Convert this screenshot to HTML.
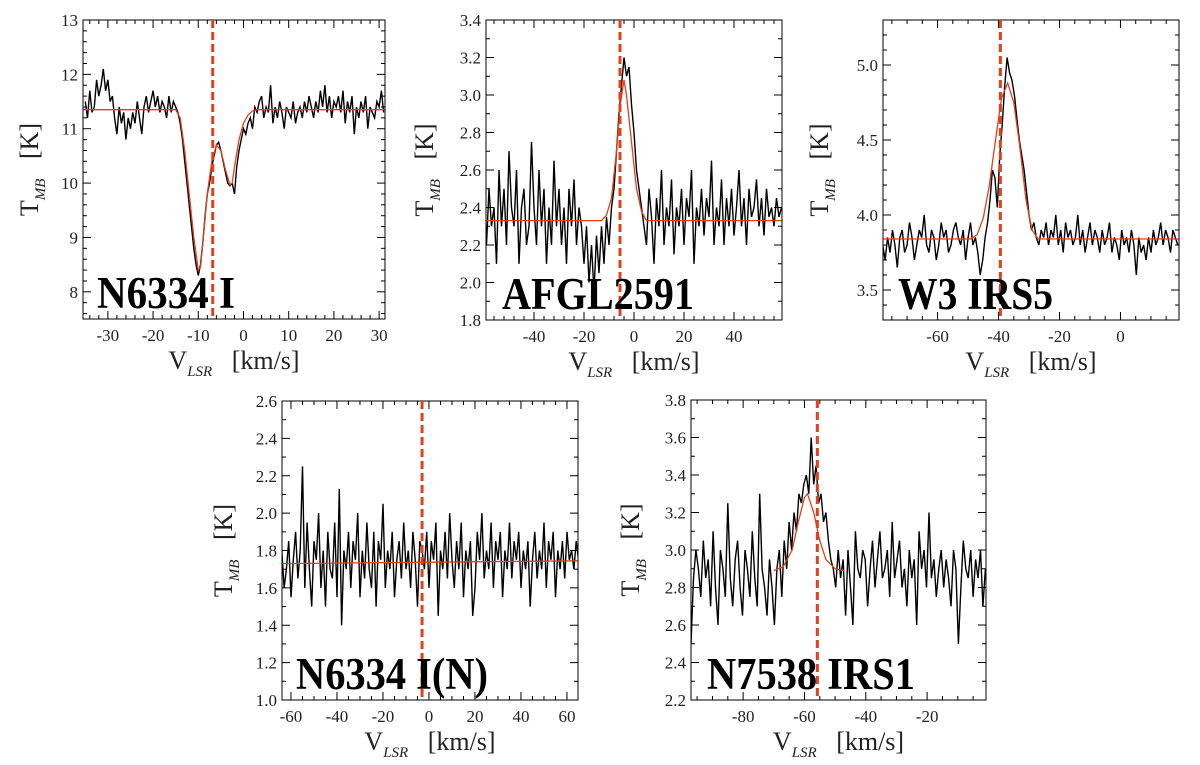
<!DOCTYPE html>
<html><head><meta charset="utf-8">
<style>
html,body{margin:0;padding:0;background:#fff;}
svg{display:block;font-family:"Liberation Serif","DejaVu Serif",serif;}
</style></head>
<body>
<svg id="fig" width="1200" height="765" viewBox="0 0 1200 765" xmlns="http://www.w3.org/2000/svg"></svg>
<script>
// ---- Panel 1: N6334 I ----
const p1Start = -35, p1Step = 0.5;
const p1Values = [11.5,11.2,11.7,11.3,11.4,11.9,11.6,11.8,12.1,11.7,11.9,11.5,11.6,11.2,10.9,11.4,11.1,11.3,10.8,11.2,11.0,11.3,11.1,11.5,11.2,10.9,11.4,11.6,11.3,11.5,11.7,11.4,11.6,11.3,11.5,11.4,11.2,11.6,11.3,11.5,11.4,11.3,
11.1,10.8,10.4,10.0,9.6,9.2,8.8,8.5,8.3,8.5,8.9,9.4,9.8,10.0,10.3,10.5,10.7,10.75,10.6,10.4,10.2,10.0,9.95,10.0,9.8,10.3,10.6,10.8,
11.0,10.9,11.1,11.2,11.0,11.4,11.3,11.5,11.6,11.2,11.4,11.3,11.8,11.1,11.4,11.2,11.5,11.3,11.0,11.4,11.3,11.2,11.5,11.1,11.3,11.4,11.2,11.5,11.3,11.6,11.4,11.2,11.5,11.3,11.7,11.4,11.8,11.3,11.6,11.2,11.5,11.4,11.6,11.3,11.7,11.1,11.5,11.3,11.6,10.9,11.4,11.2,11.5,11.3,11.6,11.0,11.4,11.3,11.2,11.5,11.4,11.7,11.3];
const p1FitV = [-35.5,-15,-14,-13,-12,-11,-10,-9.5,-9,-8,-7,-6,-5,-4,-3,-2.5,-2,-1,0,1,2,3,31.3];
const p1FitT = [11.35,11.35,11.2,10.6,9.8,9.0,8.4,8.45,8.9,9.8,10.4,10.7,10.6,10.25,9.97,10.0,10.3,10.8,11.1,11.25,11.33,11.35,11.35];
const p1XTicks = [-30,-20,-10,0,10,20,30];
const p1YTicks = [8,9,10,11,12,13];
const p1Vlsr = -6.8;

// ---- Panel 2: AFGL2591 ----
const p2Start = -59, p2Step = 1;
const p2Values = [2.2,2.5,2.3,2.4,2.1,2.6,2.3,2.5,2.2,2.7,2.4,2.3,2.6,2.1,2.4,2.5,2.2,2.3,2.75,2.4,2.2,2.6,2.3,2.5,2.1,2.4,2.2,2.65,2.3,2.5,2.2,2.4,2.1,2.5,2.3,2.55,2.2,2.4,2.3,
2.1,2.3,2.0,2.2,1.95,2.25,2.05,2.3,2.1,2.35,2.2,
2.4,2.5,2.7,2.9,3.05,3.2,3.1,3.15,2.95,2.8,2.6,2.5,2.4,
2.3,2.2,2.5,2.35,2.1,2.45,2.3,2.6,2.2,2.4,2.3,2.55,2.15,2.4,2.3,2.5,2.2,2.45,2.35,2.6,2.1,2.4,2.3,2.5,2.25,2.45,2.35,2.65,2.2,2.4,2.3,2.55,2.2,2.45,2.3,2.5,2.25,2.4,2.6,2.3,2.45,2.2,2.5,2.35,2.4,2.55,2.3,2.45,2.25,2.5,2.35,2.4,2.3,2.45,2.35,2.4];
const p2FitV = [-59.2,-13,-11,-9,-7,-5.5,-4,-3,-1,1,3,5,59.2];
const p2FitT = [2.33,2.33,2.36,2.45,2.7,2.95,3.08,3.0,2.75,2.5,2.38,2.33,2.33];
const p2XTicks = [-40,-20,0,20,40];
const p2YTicks = [1.8,2.0,2.2,2.4,2.6,2.8,3.0,3.2,3.4];
const p2Vlsr = -5.6;

// ---- Panel 3: W3 IRS5 ----
const p3Start = -78, p3Step = 0.8;
const p3Values = [3.8,3.7,3.85,3.75,3.9,3.8,3.65,3.85,3.9,3.75,3.8,3.95,3.85,3.7,3.8,3.9,3.85,4.0,3.8,3.75,3.9,3.85,3.7,3.8,3.95,3.85,3.9,3.75,3.8,3.9,3.95,3.85,3.8,3.9,3.7,3.85,3.95,3.8,3.85,
3.75,3.6,3.7,3.85,3.95,4.1,4.3,4.25,4.05,4.4,4.6,4.85,5.05,4.95,4.9,4.8,4.65,4.5,4.4,4.3,4.15,4.0,3.9,3.95,3.85,3.8,
3.9,3.85,3.95,3.8,3.9,3.85,4.0,3.8,3.9,3.75,3.95,3.85,3.9,3.8,3.85,4.0,3.8,3.9,3.75,3.85,3.95,3.8,3.9,3.85,3.75,3.9,3.8,3.85,3.95,3.75,3.85,3.8,3.7,3.9,3.8,3.85,3.75,3.9,3.8,3.6,3.85,3.75,3.8,3.7,3.85,3.75,3.9,3.8,3.85,3.95,3.8,3.9,3.85,3.75,3.9,3.85,3.8];
const p3FitV = [-78,-49,-47,-45,-43,-41,-39,-37,-35,-33,-31,-29,-27,19.2];
const p3FitT = [3.84,3.84,3.87,3.98,4.2,4.5,4.78,4.88,4.75,4.45,4.1,3.9,3.84,3.84];
const p3XTicks = [-60,-40,-20,0];
const p3YTicks = [3.5,4.0,4.5,5.0];
const p3Vlsr = -39.4;

// ---- Panel 4: N6334 I(N) ----
const p4Start = -64, p4Step = 1;
const p4Values = [1.8,1.6,1.7,1.85,1.55,1.75,1.9,1.65,1.8,2.25,1.6,1.95,1.7,1.5,1.85,1.75,2.0,1.6,1.8,1.5,1.9,1.7,1.65,1.95,1.55,2.13,1.4,1.8,1.7,1.9,1.6,1.85,1.75,2.0,1.55,1.8,1.65,1.95,1.7,1.6,1.9,1.5,1.85,1.75,2.05,1.6,1.8,1.7,1.9,1.55,1.75,1.85,1.65,1.95,1.7,1.8,1.6,1.9,1.75,1.5,1.85,1.8,1.7,1.9,1.6,1.85,1.75,1.95,1.45,1.8,1.7,1.9,1.65,2.0,1.75,1.6,1.85,1.7,1.95,1.55,1.8,1.7,1.85,1.45,1.6,1.9,1.75,2.0,1.65,1.8,1.7,1.95,1.6,1.85,1.75,1.9,1.55,1.8,1.7,1.95,1.65,1.85,1.75,1.9,1.6,1.8,1.7,1.85,1.5,1.75,1.9,1.65,1.8,1.7,1.95,1.6,1.85,1.75,1.9,1.55,1.8,1.7,1.85,1.65,1.9,1.75,1.8,1.7,1.85,1.75];
const p4FitV = [-64,65];
const p4FitT = [1.73,1.745];
const p4XTicks = [-60,-40,-20,0,20,40,60];
const p4YTicks = [1.0,1.2,1.4,1.6,1.8,2.0,2.2,2.4,2.6];
const p4Vlsr = -3;

// ---- Panel 5: N7538 IRS1 ----
const p5Start = -97, p5Step = 0.8;
const p5Values = [2.5,2.85,3.0,2.9,2.75,3.05,2.85,2.95,2.7,3.1,2.8,2.6,3.0,2.9,2.75,3.25,2.85,2.7,2.95,3.05,2.8,2.65,3.0,2.9,2.75,3.1,2.85,2.7,3.3,2.9,2.8,2.65,2.95,
2.8,2.6,2.9,3.0,2.75,3.05,2.9,3.15,3.0,3.2,3.1,3.3,3.25,3.35,3.4,3.3,3.6,3.35,3.45,3.25,3.3,3.15,3.2,3.05,2.95,2.9,
2.8,3.0,2.85,2.95,2.65,3.0,2.8,2.6,3.1,2.9,2.85,3.0,2.95,2.7,2.9,3.05,2.8,2.95,3.1,2.85,2.9,3.0,2.75,3.15,2.85,2.95,3.05,2.8,2.9,2.7,3.0,2.85,2.95,2.6,3.1,2.9,3.0,2.8,3.2,2.85,2.95,2.75,2.9,3.0,2.8,2.95,2.85,2.7,3.0,2.9,2.5,2.8,3.05,2.9,2.85,3.0,2.75,2.95,2.85,3.0,2.7,2.9];
const p5FitV = [-70,-67,-64,-62,-60,-59,-57,-55,-53,-50,-47];
const p5FitT = [2.89,2.91,3.0,3.15,3.28,3.3,3.2,3.05,2.95,2.9,2.89];
const p5XTicks = [-80,-60,-40,-20];
const p5YTicks = [2.2,2.4,2.6,2.8,3.0,3.2,3.4,3.6,3.8];
const p5Vlsr = -55.8;

const NS = "http://www.w3.org/2000/svg";
const svg = document.getElementById('fig');
function mk(tag, attrs, parent){
  const e = document.createElementNS(NS, tag);
  for (const k in attrs) e.setAttribute(k, attrs[k]);
  (parent||svg).appendChild(e);
  return e;
}
function fmt(v, dec){ return v.toFixed(dec); }

function panel(cfg){
  const g = mk('g', {});
  
  
  const L=cfg.box[0], T=cfg.box[1], R=cfg.box[2], B=cfg.box[3];
  const xs = v => L + (v - cfg.xr[0])/(cfg.xr[1]-cfg.xr[0])*(R-L);
  const ys = t => B - (t - cfg.yr[0])/(cfg.yr[1]-cfg.yr[0])*(B-T);
  const clipId = cfg.id + '-clip';
  const defs = mk('defs', {}, g);
  const cp = mk('clipPath', {id: clipId}, defs);
  mk('rect', {x:L, y:T, width:R-L, height:B-T}, cp);

  let d = '';
  cfg.values.forEach((t,i)=>{
    const v = cfg.start + i*cfg.step;
    d += (i? 'L':'M') + xs(v).toFixed(1) + ' ' + ys(t).toFixed(1);
  });
  const sp = mk('path', {d:d, fill:'none', stroke:'#000', 'stroke-width':1.4, 'clip-path':'url(#'+clipId+')'}, g);
  
  

  let fd = '';
  cfg.fitV.forEach((v,i)=>{ fd += (i?'L':'M') + xs(v).toFixed(1) + ' ' + ys(cfg.fitT[i]).toFixed(1); });
  const ft = mk('path', {d:fd, fill:'none', stroke:'#e0401a', 'stroke-width':1.3, 'clip-path':'url(#'+clipId+')'}, g);
  
  

  const fr = mk('rect', {x:L, y:T, width:R-L, height:B-T, fill:'none', stroke:'#000', 'stroke-width':1}, g);
  
  

  const xmin = Math.ceil(cfg.xr[0]/cfg.xMinor)*cfg.xMinor;
  for (let v = xmin; v <= cfg.xr[1]+1e-9; v += cfg.xMinor){
    const vv = Math.round(v*1000)/1000;
    const major = cfg.xTicks.some(t=>Math.abs(t-vv)<1e-6);
    const len = major? 8:4, x = xs(vv);
    mk('line', {x1:x, y1:B, x2:x, y2:B-len, stroke:'#000', 'stroke-width':1}, g);
    mk('line', {x1:x, y1:T, x2:x, y2:T+len, stroke:'#000', 'stroke-width':1}, g);
  }
  cfg.xTicks.forEach(v=>{
    const tl = mk('text', {x:xs(v), y:B+22, 'font-size':17, 'text-anchor':'middle', fill:'#222'}, g);
    tl.textContent = String(v);
    
    
  });
  const ymin = Math.ceil((cfg.yr[0]-1e-9)/cfg.yMinor)*cfg.yMinor;
  for (let t = ymin; t <= cfg.yr[1]+1e-9; t += cfg.yMinor){
    const tt = Math.round(t*1000)/1000;
    const major = cfg.yTicks.some(k=>Math.abs(k-tt)<1e-6);
    const len = major? 8:4, y = ys(tt);
    mk('line', {x1:L, y1:y, x2:L+len, y2:y, stroke:'#000', 'stroke-width':1}, g);
    mk('line', {x1:R, y1:y, x2:R-len, y2:y, stroke:'#000', 'stroke-width':1}, g);
  }
  cfg.yTicks.forEach(t=>{
    const tl = mk('text', {x:L-5, y:ys(t)+6, 'font-size':17, 'text-anchor':'end', fill:'#222'}, g);
    tl.textContent = fmt(t, cfg.yDec);
    
    
  });

  const vx = xs(cfg.vlsr);
  const vl = mk('line', {x1:vx, y1:T, x2:vx, y2:B, stroke:'#e0401a', 'stroke-width':3, 'stroke-dasharray':'8,4'}, g);
  
  

  const sl = mk('text', {x:cfg.labelX, y:B-11, 'font-size':45, 'font-weight':'bold', fill:'#000', textLength:cfg.labelW, lengthAdjust:'spacingAndGlyphs'}, g);
  sl.textContent = cfg.label;
  
  

  const xt = mk('text', {x:(L+R)/2, y:B+50, 'font-size':26, 'text-anchor':'middle', fill:'#222'}, g);
  xt.innerHTML = 'V<tspan font-size="15" font-style="italic" dy="7">LSR</tspan><tspan dy="-7" xml:space="preserve">   [km/s]</tspan>';
  
  

  const cy = (T+B)/2, cx = L - cfg.yTitleOff;
  const yt = mk('text', {x:cx, y:cy, 'font-size':26, 'text-anchor':'middle', fill:'#222', transform:'rotate(-90 '+cx+' '+cy+')'}, g);
  yt.innerHTML = 'T<tspan font-size="15" font-style="italic" dy="7">MB</tspan><tspan dy="-7" xml:space="preserve">   [K]</tspan>';
  
  
}

panel({id:'n6334i', box:[83,20,385,319], xr:[-35.5,31.3], yr:[7.5,13], start:p1Start, step:p1Step, values:p1Values, fitV:p1FitV, fitT:p1FitT, xTicks:p1XTicks, yTicks:p1YTicks, xMinor:2, yMinor:0.2, yDec:0, vlsr:p1Vlsr, label:'N6334 I', labelX:97, labelW:138, yTitleOff:45});
panel({id:'afgl2591', box:[486,20,782,320], xr:[-59.2,59.2], yr:[1.8,3.4], start:p2Start, step:p2Step, values:p2Values, fitV:p2FitV, fitT:p2FitT, xTicks:p2XTicks, yTicks:p2YTicks, xMinor:4, yMinor:0.1, yDec:1, vlsr:p2Vlsr, label:'AFGL2591', labelX:502, labelW:192, yTitleOff:53});
panel({id:'w3irs5', box:[883,20,1179,320], xr:[-77.9,19.2], yr:[3.3,5.3], start:p3Start, step:p3Step, values:p3Values, fitV:p3FitV, fitT:p3FitT, xTicks:p3XTicks, yTicks:p3YTicks, xMinor:5, yMinor:0.1, yDec:1, vlsr:p3Vlsr, label:'W3 IRS5', labelX:898, labelW:155, yTitleOff:55});
panel({id:'n6334in', box:[282,401,578,700], xr:[-63.9,64.8], yr:[1.0,2.6], start:p4Start, step:p4Step, values:p4Values, fitV:p4FitV, fitT:p4FitT, xTicks:p4XTicks, yTicks:p4YTicks, xMinor:5, yMinor:0.1, yDec:1, vlsr:p4Vlsr, label:'N6334 I(N)', labelX:296, labelW:192, yTitleOff:50});
panel({id:'n7538irs1', box:[691,400,986,700], xr:[-97,-0.8], yr:[2.2,3.8], start:p5Start, step:p5Step, values:p5Values, fitV:p5FitV, fitT:p5FitT, xTicks:p5XTicks, yTicks:p5YTicks, xMinor:5, yMinor:0.1, yDec:1, vlsr:p5Vlsr, label:'N7538 IRS1', labelX:707, labelW:208, yTitleOff:52});
</script>
</body></html>
